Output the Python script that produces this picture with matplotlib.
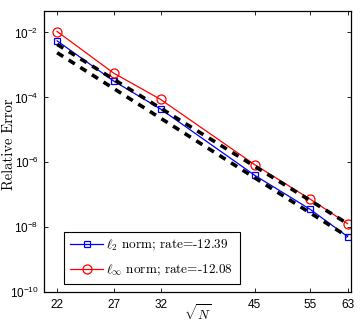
import numpy as np
import matplotlib
matplotlib.use("Agg")
import matplotlib.pyplot as plt
from matplotlib.ticker import FixedLocator, NullLocator, LogFormatterMathtext

# data
sqrt_n = [22, 27, 32, 45, 55, 63]
err_l2 = [5.5e-3, 3.2e-4, 4.4e-5, 4.0e-7, 3.6e-8, 5.2e-9]
err_linf = [1.07e-2, 5.6e-4, 8.7e-5, 8.5e-7, 7.4e-8, 1.3e-8]
rate_l2 = -12.39
rate_linf = -12.08
x_ticks = [22, 27, 32, 45, 55, 63]
y_ticks = [1e-10, 1e-8, 1e-6, 1e-4, 1e-2]

fig = plt.figure(figsize=(3.6, 3.25), dpi=100)
ax = fig.add_axes([0.123, 0.1006, 0.851, 0.866])

x = np.array(sqrt_n, dtype=float)

ax.plot(x, err_l2, '-s', color='blue', lw=0.9, ms=5, mfc='none', mew=0.9,
        label=r'$\ell_2$ norm; rate=%.2f' % rate_l2)
ax.plot(x, err_linf, '-o', color='red', lw=0.9, ms=6.5, mfc='none', mew=0.9,
        label=r'$\ell_\infty$ norm; rate=%.2f' % rate_linf)

# reference slopes anchored at the finest resolution
ref_l2 = err_l2[-1] * (x / x[-1]) ** rate_l2
ref_linf = err_linf[-1] * (x / x[-1]) ** rate_linf
ax.plot(x, ref_l2, '--', color='black', lw=2.6, dashes=(2.0, 1.8))
ax.plot(x, ref_linf, '--', color='black', lw=2.6, dashes=(2.0, 1.8))

ax.set_xscale('log')
ax.set_yscale('log')
ax.set_xlim(21.0, 63.7)
ax.set_ylim(1e-10, 10 ** -1.335)

ax.xaxis.set_major_locator(FixedLocator(x_ticks))
ax.xaxis.set_minor_locator(NullLocator())
ax.set_xticklabels([str(t) for t in x_ticks])
ax.yaxis.set_major_locator(FixedLocator(y_ticks))
ax.yaxis.set_minor_locator(NullLocator())
ax.yaxis.set_major_formatter(LogFormatterMathtext())

ax.tick_params(which='both', direction='in', top=True, right=True,
               length=3, width=0.6, labelsize=8.5)
ax.tick_params(axis='x', pad=5)
ax.tick_params(axis='y', pad=4)
for lab in ax.get_xticklabels() + ax.get_yticklabels():
    lab.set_fontfamily('Liberation Sans')
for s in ax.spines.values():
    s.set_linewidth(0.9)

ax.set_xlabel(r'$\sqrt{N}$', fontsize=9.5, math_fontfamily='cm')
ax.xaxis.set_label_coords(0.5, -0.074)
ax.xaxis.label.set_va('center')
ax.set_ylabel('Relative Error', fontsize=10.5, fontfamily='cmr10')
ax.yaxis.set_label_coords(-0.116, 0.525)
ax.yaxis.label.set_va('center')

leg = ax.legend(loc='lower left', bbox_to_anchor=(0.064, 0.028), borderaxespad=0,
                fancybox=False, edgecolor='black', framealpha=1, fontsize=9.5,
                handlelength=2.45, borderpad=0.5, labelspacing=0.7,
                handletextpad=0.25)
leg.get_frame().set_linewidth(0.8)
for t in leg.get_texts():
    t.set_fontfamily('cmr10')
    t.set_math_fontfamily('cm')

fig.savefig('out.png', dpi=100)
